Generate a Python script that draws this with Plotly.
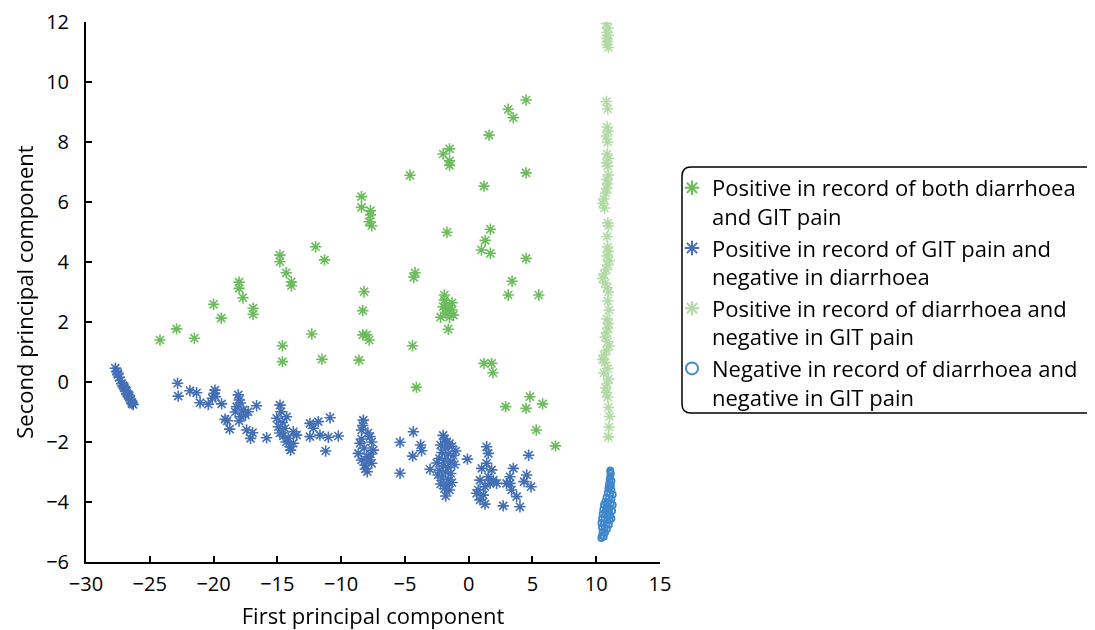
import plotly.graph_objects as go

# ---- Data ----
both_x = [-24.2, -22.9, -21.5, -20.0, -19.4, -18.0, -18.0, -17.7, -16.9, -16.9,
          -14.8, -14.8, -14.3, -13.9, -13.9, -12.0, -11.3, -14.6, -14.6, -12.3,
          -11.5, -8.4, -8.4, -7.7, -7.7, -7.8, -7.6, -8.2, -8.3, -8.3,
          -8.0, -7.8, -8.6, -4.6, -4.2, -4.3, -4.4, -4.1, -2.0, -1.5,
          -1.5, -1.5, -1.7, -1.9, -1.9, -1.3, -2.0, -1.3, -1.8, -2.2,
          -1.5, -1.2, -1.6, -1.8, -1.5, 1.6, 1.2, 1.7, 1.3, 1.0,
          1.7, 1.2, 1.8, 1.9, 3.1, 3.5, 4.5, 4.5, 4.5, 3.4,
          3.1, 5.5, 2.9, 4.8, 5.8, 4.5, 5.3, 6.8]
both_y = [1.40, 1.77, 1.46, 2.59, 2.13, 3.33, 3.12, 2.81, 2.46, 2.26,
          4.23, 4.01, 3.64, 3.34, 3.21, 4.51, 4.07, 1.21, 0.68, 1.60,
          0.76, 6.18, 5.82, 5.71, 5.57, 5.34, 5.21, 3.01, 2.38, 1.57,
          1.57, 1.40, 0.73, 6.89, 3.64, 3.49, 1.21, -0.18, 7.60, 7.77,
          7.37, 7.22, 4.99, 2.90, 2.73, 2.64, 2.51, 2.40, 2.29, 2.16,
          2.16, 2.23, 1.76, 2.45, 2.55, 8.23, 6.53, 5.09, 4.72, 4.40,
          4.29, 0.62, 0.62, 0.31, 9.09, 8.81, 9.40, 6.97, 4.12, 3.36,
          2.90, 2.90, -0.82, -0.49, -0.73, -0.88, -1.60, -2.13]

pain_x = [-27.7, -27.6, -27.5, -27.4, -27.3, -27.2, -27.1, -27.0, -26.9, -26.8,
          -26.7, -26.6, -26.5, -26.4, -26.3, -27.5, -27.0, -26.6, -26.4, -26.8,
          -22.82, -22.77, -21.85, -21.33, -21.06, -20.41, -20.1, -19.89, -19.94, -19.84,
          -19.37, -19.1, -18.93, -18.74, -18.06, -17.99, -18.19, -17.67, -17.8, -17.28,
          -16.63, -17.41, -16.94, -17.1, -15.84, -14.79, -14.71, -15.05, -14.92, -14.27,
          -14.53, -14.14, -13.75, -13.49, -14.01, -13.75, -13.96, -12.44, -12.18, -11.79,
          -12.44, -11.66, -10.87, -11.0, -10.22, -11.21, -8.26, -8.39, -8.52, -8.65,
          -8.0, -7.74, -7.48, -8.13, -7.95, -7.6, -8.3, -7.9, -8.4, -7.6,
          -8.2, -7.7, -8.4, -7.8, -8.1, -14.6, -14.4, -14.8, -14.3, -17.9,
          -18.3, -17.5, -18.0, -5.38, -5.38, -4.34, -3.77, -3.69, -4.39, -3.03,
          -2.0, -1.9, -1.7, -2.2, -1.5, -1.8, -1.3, -2.1, -1.6, -1.2,
          -2.3, -1.9, -1.4, -2.0, -1.6, -1.1, -2.3, -1.8, -1.4, -2.1,
          -1.6, -2.2, -1.7, -1.3, -1.9, -1.5, -1.8, -2.4, -1.0, -2.5,
          -0.1, 1.41, 1.54, 1.41, 1.02, 1.8, 1.54, 0.89, 1.28, 1.67,
          0.75, 1.15, 0.89, 1.28, 0.63, 1.93, 2.19, 2.71, 3.5, 3.24,
          2.97, 3.36, 3.76, 4.02, 4.34, 4.55, 4.89, 4.7, 3.24]
pain_y = [0.46, 0.35, 0.25, 0.15, 0.05, -0.05, -0.12, -0.20, -0.30, -0.38,
          -0.45, -0.52, -0.60, -0.68, -0.75, 0.30, -0.15, -0.45, -0.72, -0.30,
          -0.04, -0.47, -0.29, -0.36, -0.69, -0.74, -0.54, -0.27, -0.38, -0.49,
          -0.73, -1.24, -1.29, -1.57, -0.43, -0.60, -0.82, -0.93, -1.16, -0.99,
          -0.79, -1.60, -1.69, -1.88, -1.86, -0.77, -0.99, -1.21, -1.49, -1.16,
          -1.80, -1.88, -1.66, -1.77, -2.16, -2.04, -2.27, -1.38, -1.54, -1.32,
          -1.82, -1.77, -1.19, -1.84, -1.80, -2.30, -1.27, -1.60, -2.04, -2.38,
          -2.49, -1.82, -2.27, -2.77, -2.99, -2.71, -1.45, -1.70, -1.90, -2.00,
          -2.20, -2.40, -2.60, -2.60, -2.90, -1.35, -1.55, -1.70, -2.00, -0.70,
          -1.00, -1.10, -1.30, -2.01, -3.04, -1.66, -2.10, -2.29, -2.47, -2.91,
          -1.78, -1.90, -2.00, -2.10, -2.05, -2.20, -2.15, -2.35, -2.40, -2.45,
          -2.55, -2.60, -2.65, -2.80, -2.85, -2.75, -2.95, -3.00, -3.05, -3.20,
          -3.25, -3.40, -3.45, -3.35, -3.55, -3.60, -3.80, -3.10, -2.30, -2.70,
          -2.57, -2.16, -2.38, -2.71, -2.88, -2.93, -3.16, -3.27, -3.49, -3.38,
          -3.60, -3.77, -3.93, -4.07, -3.71, -3.27, -3.38, -4.13, -2.88, -3.16,
          -3.38, -3.60, -3.82, -4.16, -3.32, -3.10, -3.49, -2.44, -3.38]

diar_x = [10.8, 10.9, 10.85, 10.95, 10.8, 10.9, 10.85, 10.95, 10.8, 10.9,
          10.85, 10.95, 10.8, 10.9, 10.85, 10.95, 10.8, 10.9, 10.95, 10.85,
          10.9, 10.8, 10.75, 10.6, 10.5, 10.65, 10.9, 10.95, 10.85, 10.9,
          10.95, 10.85, 11.0, 10.9, 10.8, 10.6, 10.5, 10.7, 10.85, 10.95,
          10.9, 11.0, 10.85, 10.95, 10.9, 10.8, 10.7, 10.9, 11.0, 10.8,
          10.6, 10.5, 10.7, 10.9, 10.6, 10.95, 10.85, 10.75, 10.8, 10.9,
          10.95, 11.05, 11.0, 10.95]
diar_y = [11.95, 11.80, 11.65, 11.55, 11.45, 11.35, 11.25, 11.15, 9.35, 9.10,
          8.50, 8.35, 8.20, 8.00, 7.60, 7.45, 7.30, 7.20, 6.90, 6.75,
          6.60, 6.45, 6.30, 6.10, 5.95, 5.80, 5.30, 5.20, 4.85, 4.50,
          4.35, 4.20, 4.05, 3.90, 3.75, 3.60, 3.45, 3.30, 3.15, 3.00,
          2.70, 2.40, 2.10, 1.95, 1.80, 1.65, 1.50, 1.35, 1.20, 1.05,
          0.90, 0.75, 0.65, 0.45, 0.30, 0.10, -0.05, -0.20, -0.35, -0.50,
          -0.85, -1.15, -1.50, -1.83]

neg_x = [11.1, 11.15, 11.1, 11.05, 11.2, 11.0, 11.15, 10.95, 11.2, 10.9,
         11.1, 11.3, 10.8, 11.0, 11.2, 10.7, 10.95, 11.15, 11.3, 10.6,
         10.85, 11.05, 10.55, 10.75, 11.0, 11.25, 10.5, 10.7, 10.9, 11.1,
         10.45, 10.65, 10.85, 11.05, 11.2, 10.4, 10.6, 10.8, 11.0, 10.45,
         10.65, 10.85, 10.5, 10.7, 10.45, 10.6, 10.4, 11.1, 11.05, 10.9]
neg_y = [-2.95, -3.05, -3.15, -3.25, -3.30, -3.40, -3.45, -3.55, -3.60, -3.70,
         -3.72, -3.75, -3.85, -3.88, -3.90, -4.00, -4.00, -4.05, -4.10, -4.10,
         -4.15, -4.20, -4.25, -4.30, -4.30, -4.30, -4.40, -4.42, -4.45, -4.45,
         -4.55, -4.55, -4.60, -4.60, -4.55, -4.70, -4.72, -4.75, -4.75, -4.85,
         -4.88, -4.90, -5.00, -5.02, -5.12, -5.15, -5.20, -3.00, -3.50, -4.25]

names = ["Positive in record of both diarrhoea<br>and GIT pain",
         "Positive in record of GIT pain and<br>negative in diarrhoea",
         "Positive in record of diarrhoea and<br>negative in GIT pain",
         "Negative in record of diarrhoea and<br>negative in GIT pain"]

x_ticks = [-30, -25, -20, -15, -10, -5, 0, 5, 10, 15]
y_ticks = [-6, -4, -2, 0, 2, 4, 6, 8, 10, 12]

FONT = "Open Sans"
fig = go.Figure()

def star(x, y, name, color):
    fig.add_trace(go.Scatter(
        x=x, y=y, mode="markers", name=name,
        marker=dict(symbol="asterisk-open", size=9.5, color=color,
                    line=dict(color=color, width=1.6)),
        opacity=0.9))

star(both_x, both_y, names[0], "#5cb54b")
star(pain_x, pain_y, names[1], "#2f60ad")
star(diar_x, diar_y, names[2], "#a9d69c")
fig.add_trace(go.Scatter(
    x=neg_x, y=neg_y, mode="markers", name=names[3],
    marker=dict(symbol="circle-open", size=6, color="#3f88cc",
                line=dict(color="#3f88cc", width=1.8))))

# The page body adds an 8px offset; positions below are in figure pixels.
OFF = 8
W, H = 1095 - OFF, 630 - OFF
L, R, T, B = 86 - OFF, 660 - OFF, 22 - OFF, 562 - OFF
pw, ph = R - L, B - T

def px2paper_x(p):
    return (p - OFF - L) / pw

def px2paper_y(p):
    return (B - (p - OFF)) / ph

axis_common = dict(showline=True, linecolor="black", linewidth=2,
                   ticks="inside", ticklen=6, tickwidth=2, tickcolor="black",
                   showgrid=False, zeroline=False,
                   tickfont=dict(family=FONT, size=20, color="black"))

fig.update_layout(
    width=W, height=H,
    margin=dict(l=L, r=W - R, t=T, b=H - B, autoexpand=False),
    paper_bgcolor="white", plot_bgcolor="white",
    font=dict(family=FONT, color="black"),
    xaxis=dict(range=[-30, 15], tickvals=x_ticks,
               ticktext=[str(v).replace("-", "\u2212") for v in x_ticks],
               ticklabelstandoff=3,
               title=dict(text="First principal component",
                          font=dict(family=FONT, size=22), standoff=14),
               **axis_common),
    yaxis=dict(range=[-6, 12], tickvals=y_ticks,
               ticktext=[str(v).replace("-", "\u2212") for v in y_ticks],
               ticklabelstandoff=11,
               title=dict(text="Second principal component",
                          font=dict(family=FONT, size=22), standoff=6),
               **axis_common),
    legend=dict(x=px2paper_x(672), y=px2paper_y(167), xanchor="left", yanchor="top",
                font=dict(family=FONT, size=22, color="black"),
                bgcolor="rgba(0,0,0,0)", borderwidth=0, valign="top",
                itemsizing="constant"),
    showlegend=True,
)

# rounded legend frame
x0, x1 = px2paper_x(682), px2paper_x(1102)
y0, y1 = px2paper_y(413), px2paper_y(167)
rx, ry = 9 / pw, 9 / ph
path = (f"M {x0+rx},{y1} L {x1-rx},{y1} Q {x1},{y1} {x1},{y1-ry} "
        f"L {x1},{y0+ry} Q {x1},{y0} {x1-rx},{y0} L {x0+rx},{y0} "
        f"Q {x0},{y0} {x0},{y0+ry} L {x0},{y1-ry} Q {x0},{y1} {x0+rx},{y1} Z")
fig.add_shape(type="path", path=path, xref="paper", yref="paper",
              line=dict(color="black", width=1.5), fillcolor="rgba(0,0,0,0)")

fig.write_html("out.html")
